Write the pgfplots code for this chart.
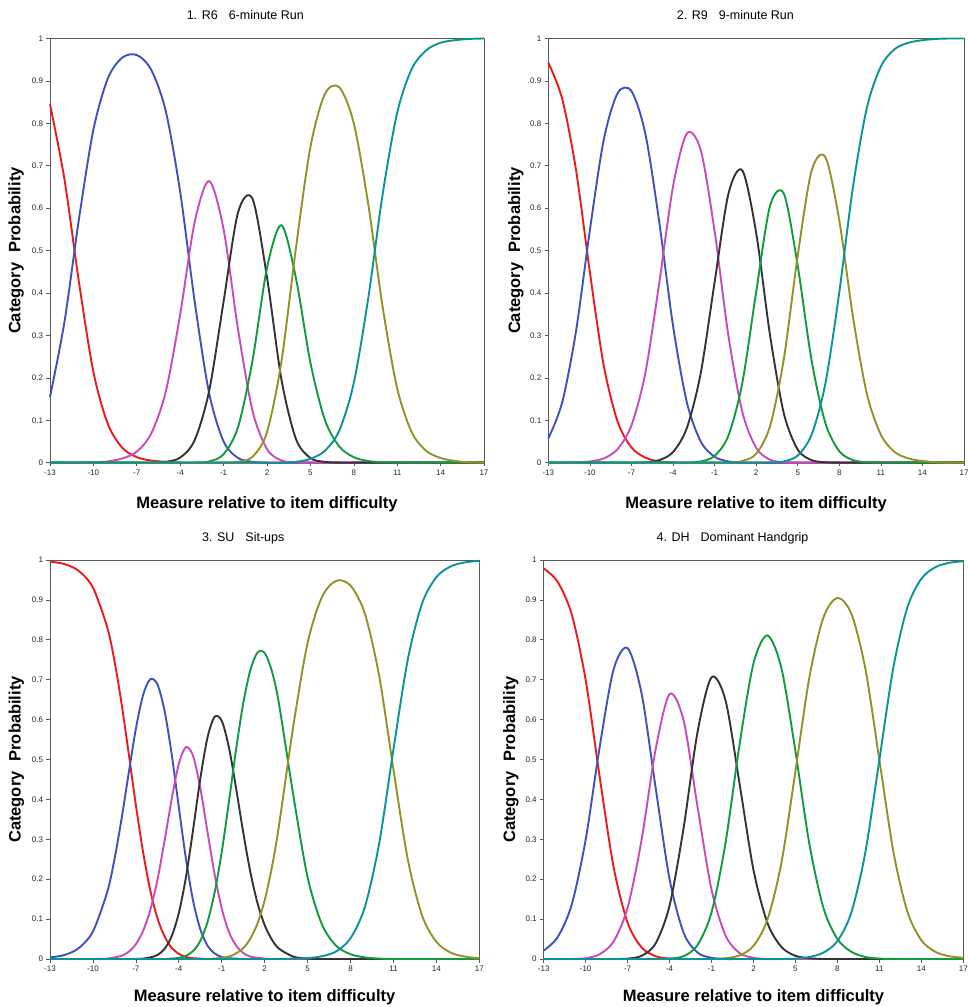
\documentclass[border=0pt]{standalone}
\usepackage{pgfplots}
\pgfplotsset{compat=1.18}
\usepackage{pgfplotstable}
\usepackage{fontspec}
\setmainfont{Liberation Sans}

\definecolor{cat0}{HTML}{EE1A1A}
\definecolor{cat1}{HTML}{3D52BE}
\definecolor{cat2}{HTML}{C84BB8}
\definecolor{cat3}{HTML}{333333}
\definecolor{cat4}{HTML}{119A3E}
\definecolor{cat5}{HTML}{929226}
\definecolor{cat6}{HTML}{0A9494}
\definecolor{frame}{HTML}{5A5A5A}

% category probabilities, one column per category (0..6)
\pgfplotstableread{
x   c0    c1    c2    c3    c4    c5    c6
-13 0.845 0.155 0     0     0     0     0
-12 0.668 0.332 0     0     0     0     0
-11 0.426 0.574 0     0     0     0     0
-10 0.214 0.785 0.001 0     0     0     0
-9  0.091 0.906 0.003 0     0     0     0
-8  0.035 0.955 0.010 0     0     0     0
-7  0.013 0.961 0.026 0     0     0     0
-6  0.005 0.926 0.069 0     0     0     0
-5  0.002 0.829 0.167 0.002 0     0     0
-4  0     0.638 0.350 0.012 0     0     0
-3  0     0.380 0.567 0.053 0     0     0
-2  0     0.164 0.664 0.169 0.003 0     0
-1  0     0.050 0.550 0.380 0.020 0     0
0   0     0.011 0.314 0.590 0.084 0.002 0
1   0     0.002 0.122 0.622 0.241 0.014 0
2   0     0     0.032 0.437 0.459 0.072 0
3   0     0     0.005 0.196 0.560 0.239 0
4   0     0     0.001 0.056 0.435 0.506 0.002
5   0     0     0     0.011 0.236 0.744 0.009
6   0     0     0     0.002 0.101 0.869 0.028
7   0     0     0     0     0.038 0.885 0.076
8   0     0     0     0     0.013 0.800 0.188
9   0     0     0     0     0.004 0.609 0.388
10  0     0     0     0     0.001 0.366 0.634
11  0     0     0     0     0     0.175 0.825
12  0     0     0     0     0     0.072 0.928
13  0     0     0     0     0     0.028 0.972
14  0     0     0     0     0     0.011 0.990
15  0     0     0     0     0     0.004 0.996
16  0     0     0     0     0     0.001 0.999
17  0     0     0     0     0     0     1.000
}\runsix

\pgfplotstableread{
x   c0    c1    c2    c3    c4    c5    c6
-13 0.943 0.057 0     0     0     0     0
-12 0.858 0.142 0     0     0     0     0
-11 0.690 0.310 0.001 0     0     0     0
-10 0.449 0.548 0.003 0     0     0     0
-9  0.229 0.761 0.010 0     0     0     0
-8  0.097 0.871 0.032 0     0     0     0
-7  0.036 0.876 0.088 0     0     0     0
-6  0.012 0.776 0.211 0.001 0     0     0
-5  0.003 0.569 0.422 0.006 0     0     0
-4  0.001 0.323 0.651 0.025 0     0     0
-3  0     0.142 0.776 0.082 0     0     0
-2  0     0.050 0.737 0.211 0.003 0     0
-1  0     0.014 0.546 0.425 0.016 0     0
0   0     0.003 0.299 0.634 0.064 0     0
1   0     0     0.120 0.689 0.188 0.004 0
2   0     0     0.035 0.542 0.402 0.021 0
3   0     0     0.007 0.301 0.605 0.086 0
4   0     0     0.001 0.116 0.634 0.245 0.003
5   0     0     0     0.031 0.464 0.488 0.017
6   0     0     0     0.006 0.241 0.688 0.066
7   0     0     0     0.001 0.093 0.720 0.187
8   0     0     0     0     0.027 0.571 0.402
9   0     0     0     0     0.006 0.341 0.653
10  0     0     0     0     0.001 0.161 0.838
11  0     0     0     0     0     0.066 0.934
12  0     0     0     0     0     0.025 0.975
13  0     0     0     0     0     0.010 0.990
14  0     0     0     0     0     0.004 0.996
15  0     0     0     0     0     0.001 0.999
16  0     0     0     0     0     0     1.000
17  0     0     0     0     0     0     1.000
}\runnine

\pgfplotstableread{
x    c0    c1    c2    c3    c4    c5    c6
-13  0.996 0.004 0     0     0     0     0
-12  0.990 0.010 0     0     0     0     0
-11  0.973 0.027 0     0     0     0     0
-10  0.931 0.069 0     0     0     0     0
-9   0.831 0.168 0.001 0     0     0     0
-8.5 0.748 0.249 0.004 0     0     0     0
-8   0.640 0.351 0.008 0     0     0     0
-7.5 0.515 0.466 0.018 0     0     0     0
-7   0.386 0.577 0.037 0     0     0     0
-6.5 0.269 0.661 0.070 0.001 0     0     0
-6   0.173 0.701 0.122 0.004 0     0     0
-5.5 0.103 0.689 0.197 0.010 0     0     0
-5   0.057 0.623 0.295 0.025 0     0     0
-4.5 0.028 0.514 0.400 0.057 0.001 0     0
-4   0.013 0.381 0.489 0.115 0.003 0     0
-3.5 0.005 0.251 0.531 0.205 0.008 0     0
-3   0.002 0.146 0.509 0.324 0.020 0     0
-2.5 0.001 0.075 0.429 0.451 0.045 0     0
-2   0     0.034 0.320 0.554 0.092 0     0
-1.5 0     0.014 0.213 0.607 0.166 0.001 0
-1   0     0.005 0.127 0.597 0.268 0.003 0
-0.5 0     0.002 0.068 0.531 0.393 0.006 0
0    0     0.001 0.034 0.429 0.524 0.014 0
0.5  0     0     0.015 0.318 0.640 0.027 0
1    0     0     0.006 0.218 0.724 0.051 0
1.5  0     0     0.003 0.140 0.768 0.089 0
2    0     0     0.001 0.085 0.767 0.147 0
2.5  0     0     0     0.049 0.722 0.229 0
3    0     0     0     0.026 0.640 0.334 0
4    0     0     0     0.006 0.411 0.583 0.001
5    0     0     0     0.001 0.205 0.792 0.002
6    0     0     0     0     0.087 0.907 0.007
7    0     0     0     0     0.033 0.948 0.019
8    0     0     0     0     0.012 0.936 0.052
9    0     0     0     0     0.004 0.866 0.130
10   0     0     0     0     0.001 0.710 0.289
11   0     0     0     0     0     0.475 0.525
12   0     0     0     0     0     0.250 0.750
13   0     0     0     0     0     0.109 0.891
14   0     0     0     0     0     0.043 0.957
15   0     0     0     0     0     0.016 0.984
16   0     0     0     0     0     0.006 0.994
17   0     0     0     0     0     0.002 0.998
}\situps

\pgfplotstableread{
x   c0    c1    c2    c3    c4    c5    c6
-13 0.979 0.021 0     0     0     0     0
-12 0.945 0.055 0     0     0     0     0
-11 0.864 0.136 0     0     0     0     0
-10 0.699 0.299 0.002 0     0     0     0
-9  0.457 0.531 0.012 0     0     0     0
-8  0.230 0.726 0.044 0     0     0     0
-7  0.091 0.779 0.129 0.001 0     0     0
-6  0.029 0.665 0.299 0.008 0     0     0
-5  0.007 0.430 0.525 0.039 0     0     0
-4  0.001 0.200 0.664 0.134 0.001 0     0
-3  0     0.066 0.598 0.328 0.007 0     0
-2  0     0.016 0.381 0.569 0.035 0     0
-1  0     0.003 0.174 0.706 0.117 0     0
0   0     0     0.059 0.648 0.291 0.002 0
1   0     0     0.015 0.440 0.537 0.009 0
2   0     0     0.003 0.223 0.741 0.033 0
3   0     0     0     0.090 0.811 0.099 0
4   0     0     0     0.030 0.728 0.242 0
5   0     0     0     0.008 0.520 0.471 0.001
6   0     0     0     0.002 0.287 0.707 0.005
7   0     0     0     0     0.128 0.856 0.016
8   0     0     0     0     0.050 0.905 0.045
9   0     0     0     0     0.018 0.865 0.117
10  0     0     0     0     0.005 0.727 0.268
11  0     0     0     0     0.001 0.499 0.499
12  0     0     0     0     0     0.269 0.731
13  0     0     0     0     0     0.119 0.881
14  0     0     0     0     0     0.047 0.953
15  0     0     0     0     0     0.018 0.982
16  0     0     0     0     0     0.007 0.993
17  0     0     0     0     0     0.003 0.997
}\handgrip

\pgfplotsset{
  rasch/.style={
    scale only axis,
    xmin=-13, xmax=17, ymin=0, ymax=1,
    xtick={-13,-10,-7,-4,-1,2,5,8,11,14,17},
    ytick={0,0.1,0.2,0.3,0.4,0.5,0.6,0.7,0.8,0.9,1},
    axis line style={draw=frame, line width=0.8pt},
    tick style={draw=frame, line width=0.6pt},
    tick align=outside, major tick length=3.5pt,
    xtick pos=bottom, ytick pos=left,
    /pgf/number format/assume math mode=true,
    ticklabel style={font=\fontsize{8}{9}\selectfont, text=black!85},
    yticklabel style={/pgf/number format/fixed},
    xlabel={Measure relative to item difficulty},
    ylabel={Category\hspace{0.6em}Probability},
    label style={font=\bfseries\fontsize{16.5}{18}\selectfont},
    xlabel style={at={(axis description cs:0.5,-0.097)}, anchor=center},
    ylabel style={at={(axis description cs:-0.078,0.5)}, anchor=center},
    title style={at={(axis description cs:0.45,1.04)}, anchor=center,
      font=\fontsize{12.5}{14}\selectfont},
    clip=false,
  },
  cat/.style={smooth, no markers, line width=1.9pt, color=#1},
}

\newcommand{\curves}[1]{%
  \addplot[cat=cat0] table[x=x, y=c0] {#1};
  \addplot[cat=cat1] table[x=x, y=c1] {#1};
  \addplot[cat=cat2] table[x=x, y=c2] {#1};
  \addplot[cat=cat3] table[x=x, y=c3] {#1};
  \addplot[cat=cat4] table[x=x, y=c4] {#1};
  \addplot[cat=cat5] table[x=x, y=c5] {#1};
  \addplot[cat=cat6] table[x=x, y=c6] {#1};
}

\begin{document}
\begin{tikzpicture}
\path[use as bounding box] (0,0) rectangle (968pt,1007pt);

\begin{axis}[rasch, at={(50pt,544.3pt)}, anchor=south west,
  width=434pt, height=424.2pt,
  title={1. R6\hspace{11pt}6-minute Run}]
  \curves{\runsix}
\end{axis}

\begin{axis}[rasch, at={(548.3pt,544.3pt)}, anchor=south west,
  width=415.7pt, height=424.2pt,
  title={2. R9\hspace{11pt}9-minute Run}]
  \curves{\runnine}
\end{axis}

\begin{axis}[rasch, at={(50pt,48pt)}, anchor=south west,
  width=429.3pt, height=399pt,
  title={3. SU\hspace{11pt}Sit-ups}]
  \curves{\situps}
\end{axis}

\begin{axis}[rasch, at={(543.7pt,48pt)}, anchor=south west,
  width=419.6pt, height=399pt,
  title={4. DH\hspace{11pt}Dominant Handgrip}]
  \curves{\handgrip}
\end{axis}
\end{tikzpicture}
\end{document}
